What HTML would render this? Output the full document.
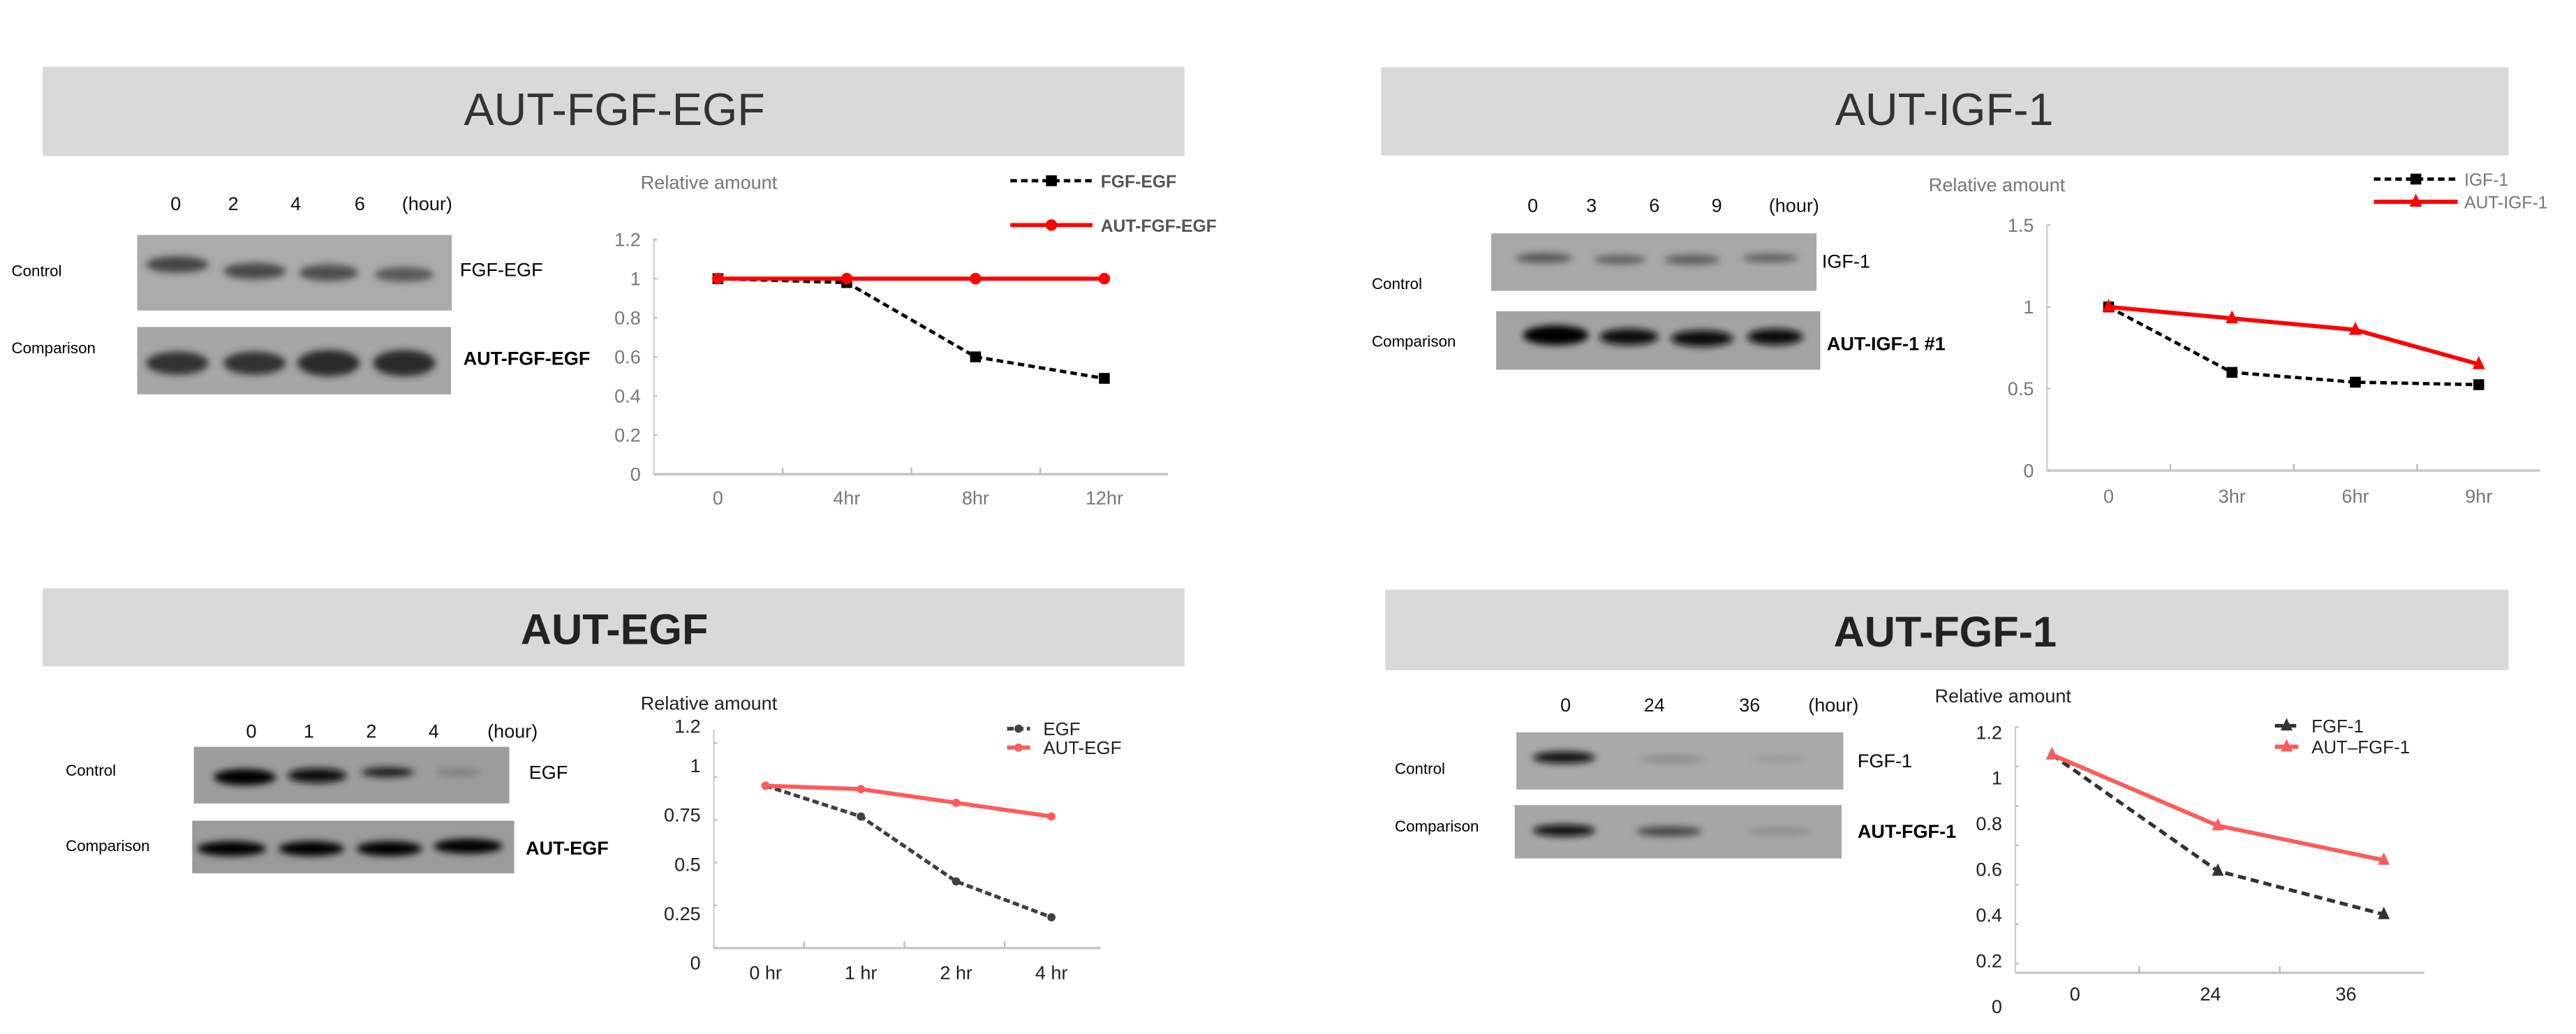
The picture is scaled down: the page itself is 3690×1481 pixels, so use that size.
<!DOCTYPE html>
<html><head><meta charset="utf-8"><style>
html,body{margin:0;padding:0;background:#fff;}
svg{display:block;font-family:"Liberation Sans",sans-serif;}
</style></head><body>
<svg id="root" width="3690" height="1481" viewBox="0 0 1568 629.3" preserveAspectRatio="none" xmlns="http://www.w3.org/2000/svg">
<defs><filter id="blur" x="-20%" y="-50%" width="140%" height="200%"><feGaussianBlur stdDeviation="2.2"/></filter></defs>
<rect x="0" y="0" width="1568" height="629.3" fill="#fff"/>

<!-- Panel 1 -->
<g>
<rect x="26" y="40.6" width="695" height="54.4" fill="#d9d9d9"/>
<text x="374" y="76" font-size="27.5" text-anchor="middle" fill="#333">AUT-FGF-EGF</text>
<g font-size="11.5" text-anchor="middle" fill="#111">
<text x="107" y="128">0</text><text x="142" y="128">2</text><text x="180" y="128">4</text><text x="219" y="128">6</text><text x="260" y="128">(hour)</text></g>
<rect x="83.5" y="143" width="191.5" height="46" fill="#ababab"/>
<rect x="83.5" y="199" width="191" height="41" fill="#a6a6a6"/>
<g filter="url(#blur)">
<ellipse cx="108" cy="161" rx="19" ry="5" fill="#444"/><ellipse cx="155" cy="165" rx="19" ry="5" fill="#4a4a4a"/><ellipse cx="200" cy="166" rx="18" ry="5" fill="#4e4e4e"/><ellipse cx="246" cy="167" rx="18" ry="4.5" fill="#585858"/>
<ellipse cx="108" cy="221" rx="19" ry="7" fill="#333"/><ellipse cx="155" cy="221" rx="19" ry="7" fill="#333"/><ellipse cx="200" cy="221" rx="19" ry="8" fill="#2a2a2a"/><ellipse cx="246" cy="221" rx="19" ry="8" fill="#2a2a2a"/></g>
<text x="7" y="168" font-size="9.5">Control</text>
<text x="7" y="215" font-size="9.5">Comparison</text>
<text x="280" y="168" font-size="11.5">FGF-EGF</text>
<text x="282" y="222" font-size="11.5" font-weight="bold">AUT-FGF-EGF</text>
<g id="c1"></g>
</g>

<!-- Panel 2 -->
<g>
<rect x="840.7" y="41" width="686.3" height="53.6" fill="#d9d9d9"/>
<text x="1183.5" y="76" font-size="27.5" text-anchor="middle" fill="#333">AUT-IGF-1</text>
<g font-size="11.5" text-anchor="middle" fill="#111">
<text x="933" y="129">0</text><text x="968.7" y="129">3</text><text x="1007" y="129">6</text><text x="1045" y="129">9</text><text x="1092" y="129">(hour)</text></g>
<rect x="907.7" y="142" width="198" height="35" fill="#a8a8a8"/>
<rect x="910.7" y="189.4" width="197.3" height="35.6" fill="#a3a3a3"/>
<g filter="url(#blur)">
<ellipse cx="939.7" cy="157" rx="17" ry="3" fill="#555"/><ellipse cx="986" cy="158" rx="16" ry="2.6" fill="#5c5c5c"/><ellipse cx="1030" cy="158" rx="17" ry="2.8" fill="#585858"/><ellipse cx="1077.5" cy="157" rx="17" ry="2.6" fill="#5e5e5e"/>
<ellipse cx="947" cy="204" rx="20" ry="6" fill="#050505"/><ellipse cx="991.5" cy="205" rx="18" ry="5" fill="#111"/><ellipse cx="1036" cy="206" rx="19" ry="5" fill="#0d0d0d"/><ellipse cx="1080.5" cy="205" rx="17" ry="5" fill="#111"/></g>
<text x="835" y="176" font-size="9.5">Control</text>
<text x="835" y="211" font-size="9.5">Comparison</text>
<text x="1109" y="163" font-size="11.5">IGF-1</text>
<text x="1112" y="213" font-size="11.5" font-weight="bold">AUT-IGF-1 #1</text>
<g id="c2"></g>
</g>

<!-- Panel 3 -->
<g>
<rect x="26" y="358" width="695" height="47.5" fill="#d9d9d9"/>
<text x="374" y="392" font-size="26" font-weight="bold" text-anchor="middle" fill="#222">AUT-EGF</text>
<g font-size="11.5" text-anchor="middle" fill="#111">
<text x="153" y="449">0</text><text x="188" y="449">1</text><text x="226" y="449">2</text><text x="264" y="449">4</text><text x="312" y="449">(hour)</text></g>
<rect x="118" y="454.5" width="192" height="34.5" fill="#9d9d9d"/>
<rect x="117" y="499.5" width="196" height="32" fill="#9b9b9b"/>
<g filter="url(#blur)">
<ellipse cx="149" cy="473" rx="19" ry="5" fill="#050505"/><ellipse cx="193" cy="472" rx="18" ry="4.5" fill="#080808"/><ellipse cx="236" cy="470" rx="16" ry="3" fill="#1a1a1a"/><ellipse cx="279" cy="470" rx="14" ry="2" fill="#7a7a7a"/>
<ellipse cx="141" cy="516.5" rx="21" ry="4.5" fill="#050505"/><ellipse cx="189.5" cy="516.5" rx="20" ry="4.5" fill="#050505"/><ellipse cx="237" cy="516.5" rx="20" ry="4.5" fill="#050505"/><ellipse cx="285" cy="515" rx="21" ry="4.5" fill="#050505"/></g>
<text x="40" y="472" font-size="9.5">Control</text>
<text x="40" y="518" font-size="9.5">Comparison</text>
<text x="322" y="474" font-size="11.5">EGF</text>
<text x="320" y="520" font-size="11.5" font-weight="bold">AUT-EGF</text>
<g id="c3"></g>
</g>

<!-- Panel 4 -->
<g>
<rect x="843.2" y="358.9" width="683.8" height="49" fill="#d9d9d9"/>
<text x="1184" y="393.5" font-size="26" font-weight="bold" text-anchor="middle" fill="#222">AUT-FGF-1</text>
<g font-size="11.5" text-anchor="middle" fill="#111">
<text x="953" y="433">0</text><text x="1007" y="433">24</text><text x="1065" y="433">36</text><text x="1116" y="433">(hour)</text></g>
<rect x="923" y="445.7" width="199" height="34.8" fill="#a9a9a9"/>
<rect x="922" y="490" width="199" height="32.5" fill="#a6a6a6"/>
<g filter="url(#blur)">
<ellipse cx="952" cy="461" rx="19" ry="3.5" fill="#0a0a0a"/><ellipse cx="1018" cy="462" rx="20" ry="2.5" fill="#8e8e8e"/><ellipse cx="1083" cy="462" rx="18" ry="2" fill="#999"/>
<ellipse cx="952" cy="505.5" rx="19" ry="3.5" fill="#0a0a0a"/><ellipse cx="1016" cy="506" rx="20" ry="3" fill="#444"/><ellipse cx="1083" cy="506" rx="20" ry="2" fill="#8a8a8a"/></g>
<text x="849" y="471" font-size="9.5">Control</text>
<text x="849" y="506" font-size="9.5">Comparison</text>
<text x="1130.7" y="467" font-size="11.5">FGF-1</text>
<text x="1130.7" y="510" font-size="11.5" font-weight="bold">AUT-FGF-1</text>
<g id="c4"></g>
</g>
</svg>
<script>
// ---- Chart 1 data ----
const c1Categories = ["0", "4hr", "8hr", "12hr"];
const c1Ticks = [0, 0.2, 0.4, 0.6, 0.8, 1, 1.2];
const c1TickLabels = ["0", "0.2", "0.4", "0.6", "0.8", "1", "1.2"];
const c1SeriesA = [1, 0.98, 0.6, 0.49];
const c1SeriesB = [1, 1, 1, 1];
// ---- Chart 2 data ----
const c2Categories = ["0", "3hr", "6hr", "9hr"];
const c2Ticks = [0, 0.5, 1, 1.5];
const c2TickLabels = ["0", "0.5", "1", "1.5"];
const c2SeriesA = [1, 0.6, 0.54, 0.525];
const c2SeriesB = [1, 0.93, 0.86, 0.65];
// ---- Chart 3 data ----
const c3Categories = ["0 hr", "1 hr", "2 hr", "4 hr"];
const c3Ticks = [0, 0.25, 0.5, 0.75, 1, 1.2];
const c3TickLabels = ["0", "0.25", "0.5", "0.75", "1", "1.2"];
const c3SeriesA = [0.95, 0.77, 0.39, 0.18];
const c3SeriesB = [0.95, 0.93, 0.85, 0.77];
// ---- Chart 4 data ----
const c4Categories = ["0", "24", "36"];
const c4Ticks = [0, 0.2, 0.4, 0.6, 0.8, 1, 1.2];
const c4TickLabels = ["0", "0.2", "0.4", "0.6", "0.8", "1", "1.2"];
const c4SeriesA = [1.06, 0.47, 0.25];
const c4SeriesB = [1.06, 0.70, 0.525];

const NS = "http://www.w3.org/2000/svg";
function mk(parent, tag, attrs, txt) {
  const e = document.createElementNS(NS, tag);
  for (const k in attrs) e.setAttribute(k, attrs[k]);
  if (txt !== undefined) e.textContent = txt;
  parent.appendChild(e);
  return e;
}
function marker(g, type, x, y, color, s) {
  let e;
  if (type === "square") e = mk(g, "rect", {x: x - s, y: y - s, width: 2 * s, height: 2 * s, fill: color});
  else if (type === "circle") e = mk(g, "circle", {cx: x, cy: y, r: s, fill: color});
  else e = mk(g, "polygon", {points: (x) + "," + (y - s * 1.3) + " " + (x - s) + "," + (y + s * 0.8) + " " + (x + s) + "," + (y + s * 0.8), fill: color});
  return e;
}
function drawChart(cfg) {
  const g = document.getElementById(cfg.id);
  const ys = v => cfg.y0 - v * cfg.yk;
  const yl = cfg.labY || ys;
  const xs = i => cfg.x0 + i * cfg.dx;
  const xl = cfg.labX || xs;
  const title = mk(g, "text", {x: cfg.titleX, y: cfg.titleY, "font-size": 11.5, fill: cfg.titleColor});
  title.textContent = "Relative amount";
  
  
  const yAxis = mk(g, "line", {x1: cfg.ax, y1: cfg.axTop, x2: cfg.ax, y2: cfg.axBot, stroke: "#d0d0d0", "stroke-width": 1});
  
  
  const xAxis = mk(g, "line", {x1: cfg.ax, y1: cfg.axBot, x2: cfg.axRight, y2: cfg.axBot, stroke: "#c8c8c8", "stroke-width": 1.5});
  
  
  cfg.ticks.forEach((t, i) => {
    const tm = mk(g, "line", {x1: cfg.ax, y1: ys(t), x2: cfg.ax + 2, y2: ys(t), stroke: "#bbb", "stroke-width": 1});
    
    
    const tl = mk(g, "text", {x: cfg.ax - 8, y: yl(t) + 4, "font-size": 11.5, "text-anchor": "end", fill: cfg.tickColor}, cfg.tickLabels[i]);
    
    
  });
  cfg.xTicks.forEach(i => {
    const xt = mk(g, "line", {x1: cfg.ax + i * cfg.xtStep + cfg.xtOff, y1: cfg.axBot, x2: cfg.ax + i * cfg.xtStep + cfg.xtOff, y2: cfg.axBot - 4, stroke: "#bbb", "stroke-width": 1});
    
    
  });
  cfg.cats.forEach((c, i) => {
    const cl = mk(g, "text", {x: xl(i), y: cfg.catY, "font-size": 11.5, "text-anchor": "middle", fill: cfg.tickColor}, c);
    
    
  });
  cfg.series.forEach((s, si) => {
    const pts = s.values.map((v, i) => xs(i) + "," + ys(v)).join(" ");
    const ln = mk(g, "polyline", {points: pts, fill: "none", stroke: s.color, "stroke-width": s.width, "stroke-dasharray": s.dash || "none"});
    
    
    s.values.forEach((v, i) => {
      const m = marker(g, s.marker, xs(i), ys(v), s.color, s.ms);
      
      
    });
    const ly = cfg.legY[si];
    const lgl = mk(g, "line", {x1: cfg.legX1, y1: ly, x2: cfg.legX2, y2: ly, stroke: s.color, "stroke-width": s.width, "stroke-dasharray": s.dash || "none"});
    
    
    const lgm = marker(g, s.marker, (cfg.legX1 + cfg.legX2) / 2, ly, s.color, s.ms);
    
    
    const lgt = mk(g, "text", {x: cfg.legTX, y: ly + 4, "font-size": cfg.legFont, fill: cfg.legColor, "font-weight": cfg.legWeight || "normal"}, s.name);
    
    
  });
}

drawChart({id: "c1", y0: 288.6, yk: 119, x0: 437, dx: 78.4, ax: 398, axTop: 145, axBot: 288.6, axRight: 711,
  titleX: 390, titleY: 115, titleColor: "#777", tickColor: "#777", ticks: c1Ticks, tickLabels: c1TickLabels,
  xTicks: [1, 2, 3], xtStep: 78.4, xtOff: 0, cats: c1Categories, catY: 307,
  legY: [110, 137], legX1: 615, legX2: 665, legTX: 670, legFont: 10.5, legColor: "#555", legWeight: "bold",
  series: [
    {key: "fgf-egf", name: "FGF-EGF", values: c1SeriesA, color: "#000", width: 2, dash: "4 2.5", marker: "square", ms: 3.3},
    {key: "aut-fgf-egf", name: "AUT-FGF-EGF", values: c1SeriesB, color: "#f00", width: 2.5, marker: "circle", ms: 3.5}]});

drawChart({id: "c2", y0: 286.4, yk: 99.6, x0: 1283.5, dx: 75.1, ax: 1246, axTop: 137, axBot: 286.4, axRight: 1546,
  titleX: 1174, titleY: 116.5, titleColor: "#777", tickColor: "#777", ticks: c2Ticks, tickLabels: c2TickLabels,
  xTicks: [1, 2, 3], xtStep: 75.1, xtOff: 0, cats: c2Categories, catY: 306,
  legY: [109, 122.8], legX1: 1445, legX2: 1496, legTX: 1500, legFont: 10.5, legColor: "#777",
  series: [
    {key: "igf-1", name: "IGF-1", values: c2SeriesA, color: "#000", width: 2, dash: "4 2.5", marker: "square", ms: 3.3},
    {key: "aut-igf-1", name: "AUT-IGF-1", values: c2SeriesB, color: "#f00", width: 2.5, marker: "tri", ms: 3.8}]});

drawChart({id: "c3", y0: 577, yk: 104, x0: 466, dx: 58, ax: 434.5, axTop: 444, axBot: 577, axRight: 670,
  labY: v => 586 - v * 120, titleX: 390, titleY: 432, titleColor: "#222", tickColor: "#222", ticks: c3Ticks, tickLabels: c3TickLabels,
  xTicks: [1, 2, 3], xtStep: 61, xtOff: -6, cats: c3Categories, catY: 596,
  legY: [443.5, 455], legX1: 613, legX2: 627, legTX: 635, legFont: 11, legColor: "#222",
  series: [
    {key: "egf", name: "EGF", values: c3SeriesA, color: "#404040", width: 2.2, dash: "4 2", marker: "circle", ms: 2.5},
    {key: "aut-egf", name: "AUT-EGF", values: c3SeriesB, color: "#ff5a5a", width: 2.5, marker: "circle", ms: 2.5}]});

drawChart({id: "c4", y0: 586.5, yk: 120, x0: 1249, dx: 101, ax: 1226.7, axTop: 442.5, axBot: 592, axRight: 1475.7,
  labY: v => 612.5 - v * 139, labX: i => 1263 + i * 82.5,
  titleX: 1177.7, titleY: 427.5, titleColor: "#222", tickColor: "#222", ticks: c4Ticks, tickLabels: c4TickLabels,
  xTicks: [1, 2], xtStep: 85.5, xtOff: -10, cats: c4Categories, catY: 609,
  legY: [441.7, 454.5], legX1: 1384.7, legX2: 1399, legTX: 1407, legFont: 11, legColor: "#222",
  series: [
    {key: "fgf-1", name: "FGF-1", values: c4SeriesA, color: "#333", width: 2.2, dash: "5 3", marker: "tri", ms: 3.6},
    {key: "aut-fgf-1", name: "AUT\u2013FGF-1", values: c4SeriesB, color: "#ff5a5a", width: 2.5, marker: "tri", ms: 3.6}]});
</script>
</body></html>
